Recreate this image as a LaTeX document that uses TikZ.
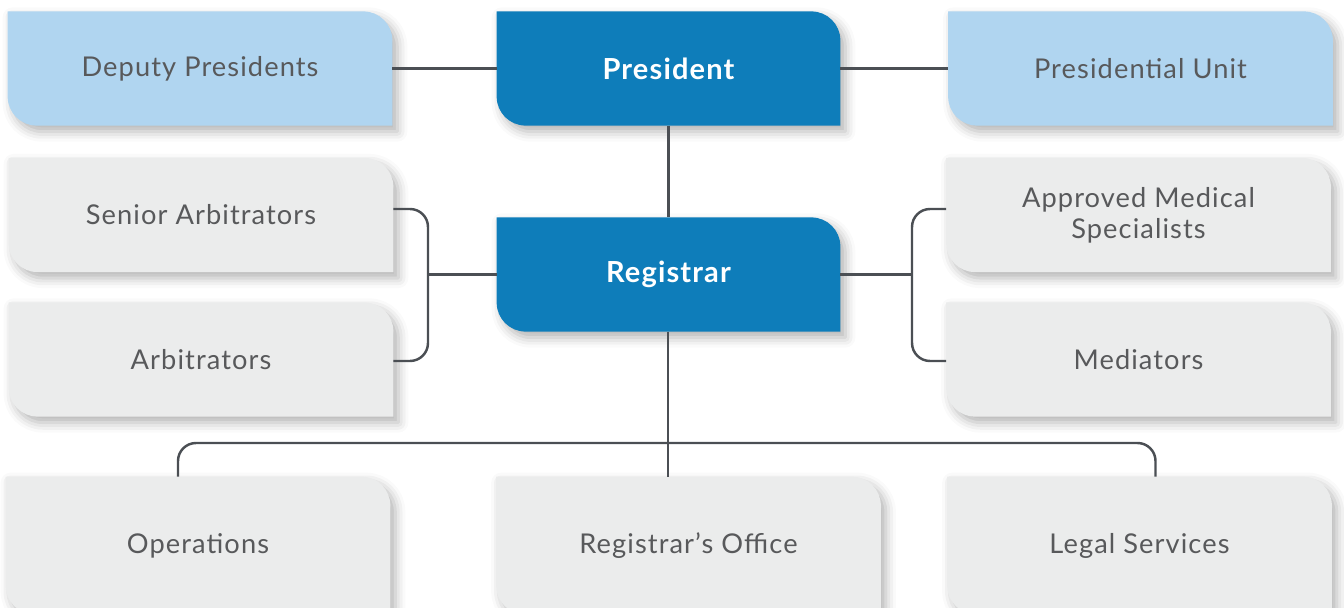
\documentclass[tikz,border=0pt]{standalone}
\usepackage{fontspec}
\setmainfont{Lato}[LetterSpace=4]
\usetikzlibrary{positioning,backgrounds,shadows.blur}
\definecolor{paleblue}{HTML}{B0D5F0}
\definecolor{deepblue}{HTML}{0E7DBA}
\definecolor{boxgrey}{HTML}{EBECEC}
\definecolor{inkgrey}{HTML}{58595B}
\definecolor{wire}{HTML}{4B4F54}

\begin{document}
\begin{tikzpicture}[
  unit/.style={inner sep=0pt,minimum width=7.68cm,minimum height=2.27cm,
               align=center,font=\fontsize{15.5}{17.5}\selectfont,text=inkgrey},
  head/.style={unit,minimum width=6.86cm,text=white,font=\fontsize{16.5}{19}\selectfont\bfseries},
  link/.style={draw=wire,line width=1.4pt},
  corner/.store in=\r, corner=0.58cm]
\useasboundingbox (0,0) rectangle (26.88,-12.16);
\clip (0,0) rectangle (26.88,-12.16);
% top row
\node[head] (pres) at (13.37,-1.37) {President};
\node[unit] (dep) at (4.00,-1.37) {Deputy Presidents};
\node[unit] (punit) at (22.81,-1.37) {Presidential Unit};
% registrar and its two sides
\node[head] (reg) at (13.37,-5.49) {Registrar};
\node[unit] (senior) at (4.02,-4.30) {Senior Arbitrators};
\node[unit] (arb) at (4.02,-7.19) {Arbitrators};
\node[unit] (ams) at (22.77,-4.30) {Approved Medical\\Specialists};
\node[unit] (med) at (22.77,-7.19) {Mediators};
% bottom row
\node[unit,minimum height=2.74cm] (ops) at (3.96,-10.91) {Operations};
\node[unit,minimum height=2.74cm] (office) at (13.77,-10.91) {Registrar’s Office};
\node[unit,minimum height=2.74cm] (legal) at (22.79,-10.91) {Legal Services};
% leaf shaped boxes
\begin{pgfonlayer}{background}
\foreach \n/\c in {dep/paleblue,punit/paleblue,pres/deepblue,reg/deepblue,
                   senior/boxgrey,arb/boxgrey,ams/boxgrey,med/boxgrey,
                   ops/boxgrey,office/boxgrey,legal/boxgrey}
  \fill[\c,blur shadow={shadow xshift=0.1cm,shadow yshift=-0.12cm,
        shadow blur radius=0.2cm,shadow opacity=30}]
    (\n.north west) -- ([xshift=-\r]\n.north east)
    arc[start angle=90,end angle=0,radius=\r] -- (\n.south east)
    -- ([xshift=\r]\n.south west) arc[start angle=270,end angle=180,radius=\r] -- cycle;
\end{pgfonlayer}
% connectors
\coordinate (lj) at (8.56,-5.49);
\coordinate (rj) at (18.24,-5.49);
\coordinate (bj) at (13.36,-8.86);
\draw[link] (dep) -- (pres);
\draw[link] (pres) -- (punit);
\draw[link] (pres) -- (reg);
\draw[link] (reg) -- (lj);
\draw[link] (reg) -- (rj);
\draw[link,rounded corners=0.36cm] ([yshift=0.12cm]senior.east) -| (lj) |- ([yshift=-0.03cm]arb.east);
\draw[link,rounded corners=0.36cm] ([yshift=0.12cm]ams.west) -| (rj) |- ([yshift=-0.03cm]med.west);
\draw[link] (reg.south -| bj) -- (bj |- office.north);
\draw[link,rounded corners=0.36cm] ([xshift=-0.4cm]ops.north) |- (bj) -| ([xshift=0.32cm]legal.north);
\end{tikzpicture}
\end{document}
